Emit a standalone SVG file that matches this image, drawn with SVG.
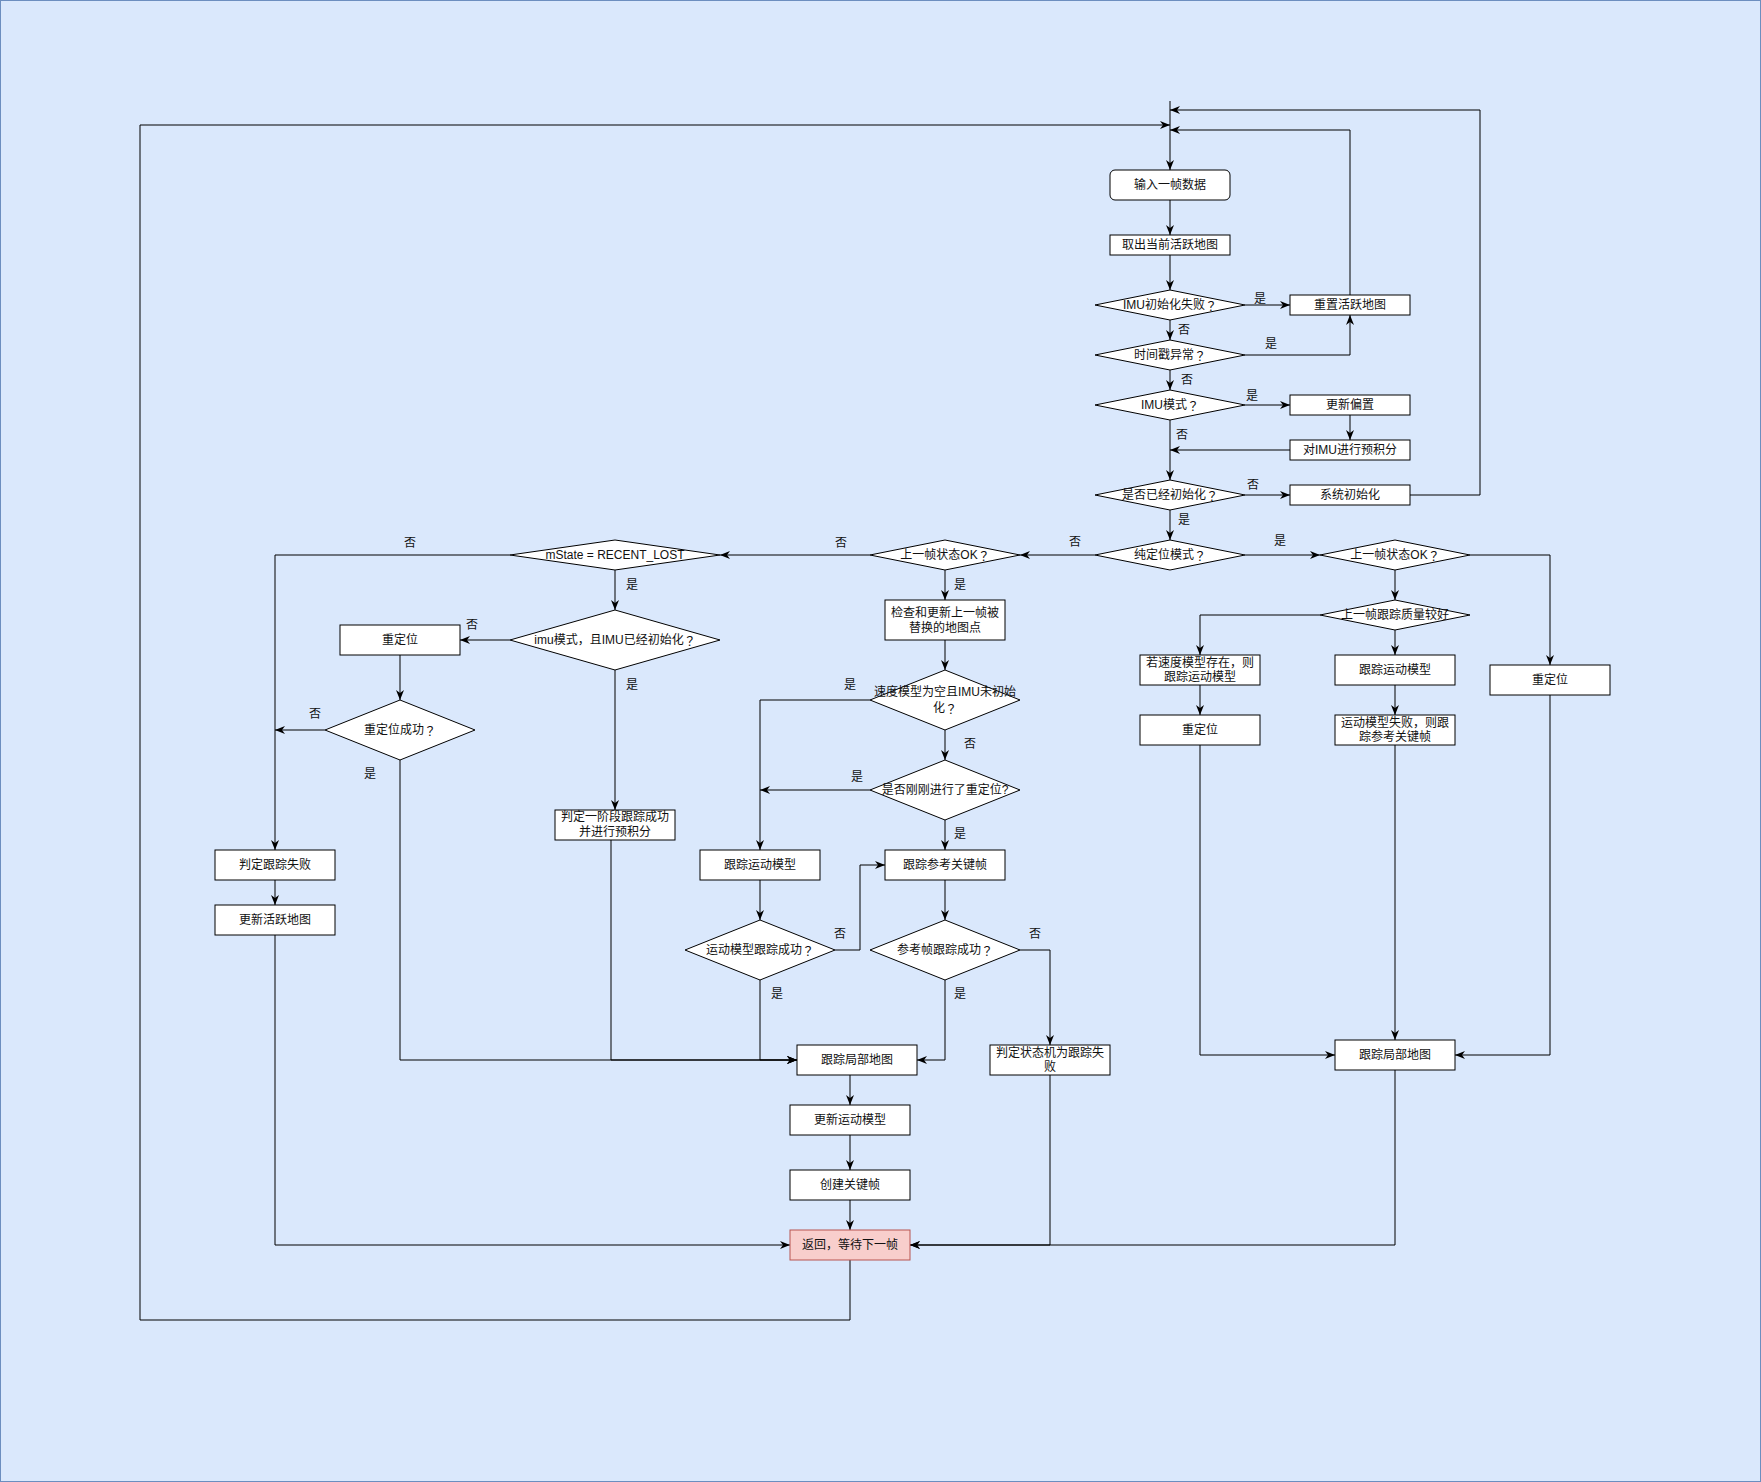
<svg xmlns="http://www.w3.org/2000/svg" width="1761" height="1482" viewBox="0 0 1761 1482">
<defs>
<marker id="arr" viewBox="0 0 10 8" refX="10" refY="4" markerWidth="10" markerHeight="8" markerUnits="userSpaceOnUse" orient="auto">
<path d="M0,0 L10,4 L0,8 L3,4 Z" fill="#000"/>
</marker>
<style>
.bx{fill:#fff;stroke:#000;stroke-width:1}
.ret{fill:#f8cecc;stroke:#b85450;stroke-width:1}
.t{font-family:"Liberation Sans","Noto Sans CJK SC",sans-serif;font-size:12px;fill:#111;text-anchor:middle;dominant-baseline:central}
.q{font-family:"Noto Sans CJK JP",sans-serif}
.c polyline{fill:none;stroke:#000;stroke-width:1;marker-end:url(#arr)}
</style>
</defs>
<rect x="0.5" y="0.5" width="1760" height="1481" fill="#dae8fc" stroke="#6c8ebf" stroke-width="1"/>

<g id="connectors" class="c">
<polyline points="1170,101 1170,170"/>
<polyline points="1170,200 1170,235"/>
<polyline points="1170,255 1170,290"/>
<polyline points="1245,305 1290,305"/>
<polyline points="1350,295 1350,130 1170,130"/>
<polyline points="1170,320 1170,340"/>
<polyline points="1245,355 1350,355 1350,315"/>
<polyline points="1170,370 1170,390"/>
<polyline points="1245,405 1290,405"/>
<polyline points="1350,415 1350,440"/>
<polyline points="1290,450 1170,450"/>
<polyline points="1170,420 1170,480"/>
<polyline points="1245,495 1290,495"/>
<polyline points="1410,495 1480,495 1480,110 1170,110"/>
<polyline points="1170,510 1170,540"/>
<polyline points="1245,555 1320,555"/>
<polyline points="1095,555 1020,555"/>
<polyline points="1395,570 1395,600"/>
<polyline points="1470,555 1550,555 1550,665"/>
<polyline points="1320,615 1200,615 1200,655"/>
<polyline points="1395,630 1395,655"/>
<polyline points="1200,685 1200,715"/>
<polyline points="1395,685 1395,715"/>
<polyline points="1200,745 1200,1055 1335,1055"/>
<polyline points="1395,745 1395,1040"/>
<polyline points="1550,695 1550,1055 1455,1055"/>
<polyline points="1395,1070 1395,1245 910,1245"/>
<polyline points="870,555 720,555"/>
<polyline points="945,570 945,600"/>
<polyline points="945,640 945,670"/>
<polyline points="870,700 760,700 760,850"/>
<polyline points="945,730 945,760"/>
<polyline points="870,790 760,790"/>
<polyline points="945,820 945,850"/>
<polyline points="760,880 760,920"/>
<polyline points="835,950 860,950 860,865 885,865"/>
<polyline points="760,980 760,1060 797,1060"/>
<polyline points="945,880 945,920"/>
<polyline points="945,980 945,1060 917,1060"/>
<polyline points="1020,950 1050,950 1050,1045"/>
<polyline points="1050,1075 1050,1245 910,1245"/>
<polyline points="850,1075 850,1105"/>
<polyline points="850,1135 850,1170"/>
<polyline points="850,1200 850,1230"/>
<polyline points="850,1260 850,1320 140,1320 140,125 1170,125"/>
<polyline points="510,555 275,555 275,850"/>
<polyline points="615,570 615,610"/>
<polyline points="510,640 460,640"/>
<polyline points="615,670 615,810"/>
<polyline points="400,655 400,700"/>
<polyline points="325,730 275,730"/>
<polyline points="400,760 400,1060 797,1060"/>
<polyline points="611,840 611,1060 797,1060"/>
<polyline points="275,880 275,905"/>
<polyline points="275,935 275,1245 790,1245"/>
</g>

<g id="edge-labels" class="t">
<text x="1260" y="299">是</text>
<text x="1184" y="330">否</text>
<text x="1271" y="344">是</text>
<text x="1187" y="380">否</text>
<text x="1252" y="396">是</text>
<text x="1182" y="435">否</text>
<text x="1253" y="485">否</text>
<text x="1184" y="520">是</text>
<text x="1280" y="541">是</text>
<text x="1075" y="542">否</text>
<text x="841" y="543">否</text>
<text x="960" y="585">是</text>
<text x="410" y="543">否</text>
<text x="632" y="585">是</text>
<text x="472" y="625">否</text>
<text x="632" y="685">是</text>
<text x="850" y="685">是</text>
<text x="970" y="744">否</text>
<text x="857" y="777">是</text>
<text x="960" y="834">是</text>
<text x="315" y="714">否</text>
<text x="370" y="774">是</text>
<text x="840" y="934">否</text>
<text x="1035" y="934">否</text>
<text x="777" y="994">是</text>
<text x="960" y="994">是</text>
</g>

<g id="n-input"><rect class="bx" x="1110" y="170" width="120" height="30" rx="5"/><text class="t" x="1170" y="185">输入一帧数据</text></g>
<g id="n-getmap"><rect class="bx" x="1110" y="235" width="120" height="20"/><text class="t" x="1170" y="245">取出当前活跃地图</text></g>
<g id="n-imufail"><polygon class="bx" points="1095,305 1170,290 1245,305 1170,320"/><text class="t" x="1170" y="305">IMU初始化失败<tspan class="q">？</tspan></text></g>
<g id="n-resetmap"><rect class="bx" x="1290" y="295" width="120" height="20"/><text class="t" x="1350" y="305">重置活跃地图</text></g>
<g id="n-timestamp"><polygon class="bx" points="1095,355 1170,340 1245,355 1170,370"/><text class="t" x="1170" y="355">时间戳异常<tspan class="q">？</tspan></text></g>
<g id="n-imumode"><polygon class="bx" points="1095,405 1170,390 1245,405 1170,420"/><text class="t" x="1170" y="405">IMU模式<tspan class="q">？</tspan></text></g>
<g id="n-bias"><rect class="bx" x="1290" y="395" width="120" height="20"/><text class="t" x="1350" y="405">更新偏置</text></g>
<g id="n-preint"><rect class="bx" x="1290" y="440" width="120" height="20"/><text class="t" x="1350" y="450">对IMU进行预积分</text></g>
<g id="n-inited"><polygon class="bx" points="1095,495 1170,480 1245,495 1170,510"/><text class="t" x="1170" y="495">是否已经初始化<tspan class="q">？</tspan></text></g>
<g id="n-sysinit"><rect class="bx" x="1290" y="485" width="120" height="20"/><text class="t" x="1350" y="495">系统初始化</text></g>
<g id="n-locmode"><polygon class="bx" points="1095,555 1170,540 1245,555 1170,570"/><text class="t" x="1170" y="555">纯定位模式<tspan class="q">？</tspan></text></g>

<g id="n-lastok-r"><polygon class="bx" points="1320,555 1395,540 1470,555 1395,570"/><text class="t" x="1395" y="555">上一帧状态OK<tspan class="q">？</tspan></text></g>
<g id="n-quality"><polygon class="bx" points="1320,615 1395,600 1470,615 1395,630"/><text class="t" x="1395" y="615">上一帧跟踪质量较好</text></g>
<g id="n-ifvel"><rect class="bx" x="1140" y="655" width="120" height="30"/><text class="t" x="1200" y="663">若速度模型存在，则</text><text class="t" x="1200" y="677">跟踪运动模型</text></g>
<g id="n-reloc-l"><rect class="bx" x="1140" y="715" width="120" height="30"/><text class="t" x="1200" y="730">重定位</text></g>
<g id="n-trackmm-r"><rect class="bx" x="1335" y="655" width="120" height="30"/><text class="t" x="1395" y="670">跟踪运动模型</text></g>
<g id="n-mmfail"><rect class="bx" x="1335" y="715" width="120" height="30"/><text class="t" x="1395" y="723">运动模型失败，则跟</text><text class="t" x="1395" y="737">踪参考关键帧</text></g>
<g id="n-reloc-r"><rect class="bx" x="1490" y="665" width="120" height="30"/><text class="t" x="1550" y="680">重定位</text></g>
<g id="n-localmap-r"><rect class="bx" x="1335" y="1040" width="120" height="30"/><text class="t" x="1395" y="1055">跟踪局部地图</text></g>

<g id="n-lastok-m"><polygon class="bx" points="870,555 945,540 1020,555 945,570"/><text class="t" x="945" y="555">上一帧状态OK<tspan class="q">？</tspan></text></g>
<g id="n-check"><rect class="bx" x="885" y="600" width="120" height="40"/><text class="t" x="945" y="613">检查和更新上一帧被</text><text class="t" x="945" y="628">替换的地图点</text></g>
<g id="n-velempty"><polygon class="bx" points="870,700 945,670 1020,700 945,730"/><text class="t" x="945" y="692">速度模型为空且IMU未初始</text><text class="t" x="945" y="708">化<tspan class="q">？</tspan></text></g>
<g id="n-justreloc"><polygon class="bx" points="870,790 945,760 1020,790 945,820"/><text class="t" x="945" y="790">是否刚刚进行了重定位?</text></g>
<g id="n-trackmm-m"><rect class="bx" x="700" y="850" width="120" height="30"/><text class="t" x="760" y="865">跟踪运动模型</text></g>
<g id="n-trackref"><rect class="bx" x="885" y="850" width="120" height="30"/><text class="t" x="945" y="865">跟踪参考关键帧</text></g>
<g id="n-mmok"><polygon class="bx" points="685,950 760,920 835,950 760,980"/><text class="t" x="760" y="950">运动模型跟踪成功<tspan class="q">？</tspan></text></g>
<g id="n-refok"><polygon class="bx" points="870,950 945,920 1020,950 945,980"/><text class="t" x="945" y="950">参考帧跟踪成功<tspan class="q">？</tspan></text></g>
<g id="n-lost"><rect class="bx" x="990" y="1045" width="120" height="30"/><text class="t" x="1050" y="1053">判定状态机为跟踪失</text><text class="t" x="1050" y="1067">败</text></g>
<g id="n-localmap-m"><rect class="bx" x="797" y="1045" width="120" height="30"/><text class="t" x="857" y="1060">跟踪局部地图</text></g>
<g id="n-updmm"><rect class="bx" x="790" y="1105" width="120" height="30"/><text class="t" x="850" y="1120">更新运动模型</text></g>
<g id="n-newkf"><rect class="bx" x="790" y="1170" width="120" height="30"/><text class="t" x="850" y="1185">创建关键帧</text></g>
<g id="n-return"><rect class="ret" x="790" y="1230" width="120" height="30"/><text class="t" x="850" y="1245">返回，等待下一帧</text></g>

<g id="n-recentlost"><polygon class="bx" points="510,555 615,540 720,555 615,570"/><text class="t" x="615" y="555">mState = RECENT_LOST</text></g>
<g id="n-imuinit"><polygon class="bx" points="510,640 615,610 720,640 615,670"/><text class="t" x="615" y="640">imu模式，且IMU已经初始化<tspan class="q">？</tspan></text></g>
<g id="n-reloc-ll"><rect class="bx" x="340" y="625" width="120" height="30"/><text class="t" x="400" y="640">重定位</text></g>
<g id="n-relocok"><polygon class="bx" points="325,730 400,700 475,730 400,760"/><text class="t" x="400" y="730">重定位成功<tspan class="q">？</tspan></text></g>
<g id="n-stage1"><rect class="bx" x="555" y="810" width="120" height="30"/><text class="t" x="615" y="817">判定一阶段跟踪成功</text><text class="t" x="615" y="832">并进行预积分</text></g>
<g id="n-fail"><rect class="bx" x="215" y="850" width="120" height="30"/><text class="t" x="275" y="865">判定跟踪失败</text></g>
<g id="n-updmap"><rect class="bx" x="215" y="905" width="120" height="30"/><text class="t" x="275" y="920">更新活跃地图</text></g>
</svg>
